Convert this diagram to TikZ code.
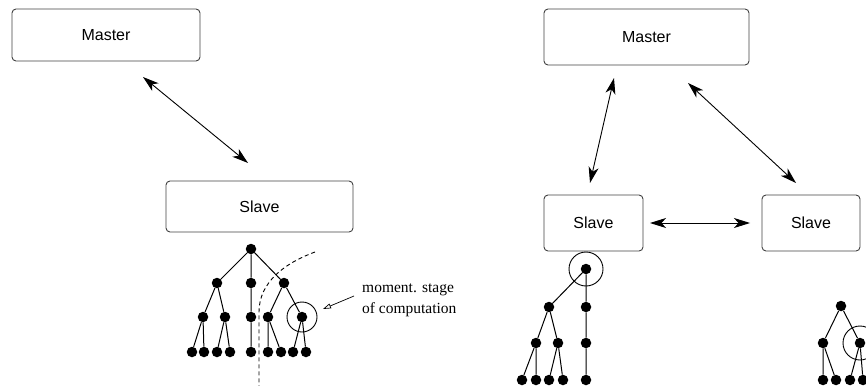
\documentclass[tikz,border=0pt]{standalone}
\usepackage{fontspec}
\setmainfont{Liberation Serif}
\setsansfont{Liberation Sans}
\usetikzlibrary{arrows.meta}
\begin{document}
\begin{tikzpicture}[x=1pt,y=-1pt,
  box/.style={draw=black!75, line width=0.9pt, rounded corners=4pt, inner sep=0pt, font=\sffamily\fontsize{16}{18}\selectfont},
  dot/.style={circle, fill=black, inner sep=0pt, minimum size=10.5pt},
  tedge/.style={line width=1pt},
  link/.style={line width=0.9pt, {Stealth[length=16pt,width=10pt,inset=4.5pt]}-{Stealth[length=16pt,width=10pt,inset=4.5pt]}},
  ring/.style={draw, line width=0.9pt, circle, inner sep=0pt}
]
\useasboundingbox (0,0) rectangle (866,385);
\clip (0,0) rectangle (866,385);

% ---------- left: master/slave ----------
\node[box, minimum width=188pt, minimum height=52pt] (M1) at (106,35) {Master};
\node[box, minimum width=187pt, minimum height=51pt] (S1) at (259.5,206.5) {Slave};
\coordinate (a1) at (143,77);
\coordinate (a2) at (248,163);
\draw[link] (a1) -- (a2);

% left tree
\node[dot] (r) at (251,249) {};
\node[dot] (l1) at (217,283) {};
\node[dot] (l2) at (251,283) {};
\node[dot] (l3) at (284,283) {};
\node[dot] (m1) at (203,317) {};
\node[dot] (m2) at (225,317) {};
\node[dot] (m3) at (251,317) {};
\node[dot] (m4) at (268,317) {};
\node[dot] (m5) at (302,317) {};
\node[dot] (b1) at (192,352) {};
\node[dot] (b2) at (204,352) {};
\node[dot] (b3) at (217,352) {};
\node[dot] (b4) at (230,352) {};
\node[dot] (b5) at (251,352) {};
\node[dot] (b6) at (268,352) {};
\node[dot] (b7) at (281,352) {};
\node[dot] (b8) at (293,352) {};
\node[dot] (b9) at (306,352) {};
\draw[tedge] (r)--(l1) (r)--(l2) (r)--(l3)
  (l1)--(m1) (l1)--(m2) (l2)--(m3) (l3)--(m4) (l3)--(m5)
  (m1)--(b1) (m1)--(b2) (m2)--(b3) (m2)--(b4) (m3)--(b5)
  (m4)--(b6) (m4)--(b7) (m5)--(b8) (m5)--(b9);
\node[ring, minimum size=30pt] (c1) at (302,317) {};
\coordinate (d1) at (315,252);
\coordinate (d2) at (259,312);
\coordinate (d3) at (259,386);
\draw[line width=0.9pt, dash pattern=on 4pt off 3pt] (d1) .. controls (285,263) and (259,282) .. (d2) -- (d3);

% label
\node[anchor=north west, align=left, inner sep=0pt, font=\fontsize{15.5}{21}\selectfont] (lab) at (362,284) {moment. stage\\of computation};
\coordinate (p1) at (354,296);
\coordinate (p2) at (323,309);
\draw[line width=0.7pt, -{Triangle[open,length=8pt,width=5pt]}] (p1) -- (p2);

% ---------- right: master and two slaves ----------
\node[box, minimum width=205pt, minimum height=56pt] (M2) at (646.5,37) {Master};
\node[box, minimum width=99pt, minimum height=56pt] (S2) at (593.5,223) {Slave};
\node[box, minimum width=98pt, minimum height=56pt] (S3) at (811,223) {Slave};
\coordinate (e1) at (614,78);
\coordinate (e2) at (590,183);
\coordinate (f1) at (688,83);
\coordinate (f2) at (796,183);
\coordinate (g1) at (650,223);
\coordinate (g2) at (750,223);
\draw[link] (e1) -- (e2);
\draw[link] (f1) -- (f2);
\draw[link] (g1) -- (g2);

% middle tree
\node[dot] (R) at (586,269) {};
\node[dot] (L1) at (549,307) {};
\node[dot] (L2) at (586,307) {};
\node[dot] (N1) at (536,343) {};
\node[dot] (N2) at (558,343) {};
\node[dot] (N3) at (586,343) {};
\node[dot] (B1) at (522,380) {};
\node[dot] (B2) at (536,380) {};
\node[dot] (B3) at (549,380) {};
\node[dot] (B4) at (563,380) {};
\node[dot] (B5) at (586,380) {};
\draw[tedge] (R)--(L1) (R)--(L2) (L1)--(N1) (L1)--(N2) (L2)--(N3)
  (N1)--(B1) (N1)--(B2) (N2)--(B3) (N2)--(B4) (N3)--(B5);
\node[ring, minimum size=34pt] (c2) at (586,269) {};

% right tree
\node[dot] (Q) at (841,306) {};
\node[dot] (Q1) at (823,343) {};
\node[dot] (Q2) at (860,343) {};
\node[dot] (Z1) at (823,380) {};
\node[dot] (Z2) at (836,380) {};
\node[dot] (Z3) at (850,380) {};
\node[dot] (Z4) at (863,380) {};
\draw[tedge] (Q)--(Q1) (Q)--(Q2) (Q1)--(Z1) (Q1)--(Z2) (Q2)--(Z3) (Q2)--(Z4);
\node[ring, minimum size=34pt] (c3) at (860,343) {};
\end{tikzpicture}
\end{document}
